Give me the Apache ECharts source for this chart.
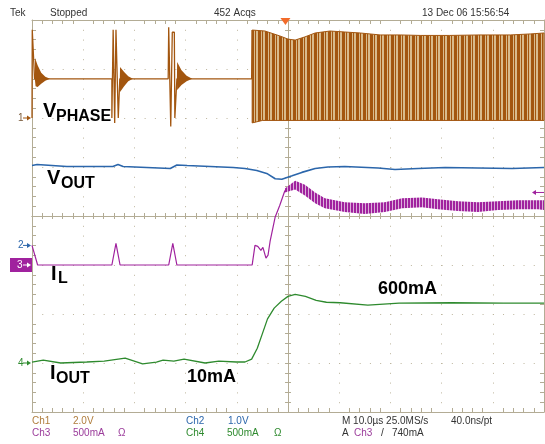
<!DOCTYPE html>
<html>
<head>
<meta charset="utf-8">
<script src="https://cdn.jsdelivr.net/npm/echarts@6.0.0/dist/echarts.min.js"></script>
<style>
html, body { margin: 0; padding: 0; background: #fff; }
#scope { width: 545px; height: 444px; }
</style>
</head>
<body>
<div id="scope"></div>
<script>
// time base: 10 us/div, trigger in the middle
const timeMin = -50, timeMax = 50;
const triggerTime = -0.5;
const triggerLevel = 0.74; // A on ch3

// channel scale (units per div) and ground marker (div from centre)
const ch1PerDiv = 2.0, ch1Ground = 2.0;
const ch2PerDiv = 1.0, ch2Ground = -0.6;
const ch3PerDiv = 0.5, ch3Ground = -1.0;
const ch4PerDiv = 0.5, ch4Ground = -3.0;

// ch1 VPHASE (V): idle trace + pulse bursts
const vphaseTrace = [
    [-50.0, 0.0], [-49.95, 3.6], [-49.6, 3.6], [-49.5, 1.6],
    [-34.4, 1.6], [-34.4, 0.0], [-34.25, 0.0], [-34.15, 3.6], [-33.95, 3.6], [-33.85, -0.2],
    [-33.7, -0.2], [-33.6, 3.6], [-33.25, 3.6], [-33.15, 0.0], [-32.95, 0.0], [-32.85, 1.6],
    [-23.4, 1.6], [-23.3, 3.7], [-23.0, 3.7], [-22.9, -0.35], [-22.7, -0.35], [-22.6, 3.5],
    [-22.2, 3.5], [-22.1, 0.0], [-21.8, 0.0], [-21.7, 1.6],
    [-7.1, 1.6], [-7.0, 3.59]
];
// ringing after each burst (outline)
const vphaseRinging = [
    [[-49.45, 1.6], [-49.4, 2.45], [-48.9, 2.15], [-48.2, 1.85], [-47.4, 1.68], [-46.5, 1.6],
     [-47.4, 1.52], [-48.2, 1.4], [-48.9, 1.27], [-49.3, 1.3]],
    [[-32.85, 1.6], [-32.8, 2.08], [-32.0, 1.88], [-31.2, 1.7], [-30.3, 1.6], [-31.2, 1.5],
     [-32.0, 1.3], [-32.8, 1.06]],
    [[-21.7, 1.6], [-21.65, 2.29], [-20.8, 1.95], [-19.8, 1.72], [-18.7, 1.6], [-19.8, 1.5],
     [-20.8, 1.35], [-21.65, 1.14]]
];
// continuous switching: envelope of the square wave
const vphaseSwitchHigh = [
    [-7.0, 3.59], [-4.5, 3.55], [-1.6, 3.35], [0, 3.22], [1.4, 3.18], [3.3, 3.31], [5.3, 3.47],
    [8.2, 3.55], [11.1, 3.51], [14.1, 3.47], [18.0, 3.39], [21.9, 3.39], [25.8, 3.37],
    [31.6, 3.37], [37.5, 3.39], [43.4, 3.39], [47.3, 3.43], [50, 3.47]
];
const vphaseSwitchLow = [[-7.0, -0.2], [-5.0, -0.1], [50, -0.1]];

// ch2 VOUT (V)
const voutTrace = [
    [-50, 1.63], [-49, 1.65], [-43.2, 1.61], [-34.2, 1.61], [-33.2, 1.65], [-32.2, 1.61],
    [-23.0, 1.57], [-21.7, 1.64], [-19.7, 1.63], [-10.7, 1.59], [-8.4, 1.57], [-6.1, 1.53],
    [-4.0, 1.46], [-2.5, 1.36], [-1.2, 1.35], [0.8, 1.42], [2.7, 1.49], [5.3, 1.57], [7.8, 1.60],
    [11.1, 1.61], [17.6, 1.58], [20.9, 1.55], [25.4, 1.57], [30.7, 1.59], [37.1, 1.58],
    [43.8, 1.57], [50, 1.59]
];

// ch3 IL (A)
const ilTrace = [
    [-50, 0.20], [-49.8, 0.20], [-48.9, 0.0],
    [-34.4, 0.0], [-33.6, 0.22], [-32.8, 0.0],
    [-23.3, 0.0], [-22.5, 0.22], [-21.7, 0.0],
    [-7.0, 0.0], [-6.45, 0.20], [-5.9, 0.19], [-5.3, 0.15], [-4.9, 0.18], [-4.3, 0.07],
    [-3.9, 0.10], [-3.5, 0.24], [-2.5, 0.49], [-1.6, 0.61], [-0.6, 0.76]
];
const ilRippleHigh = [
    [-0.6, 0.78], [1.4, 0.86], [3.3, 0.82], [5.3, 0.74], [7.2, 0.68], [11.1, 0.64], [15.0, 0.63],
    [18.9, 0.64], [22.3, 0.68], [26.2, 0.69], [29.3, 0.67], [33.2, 0.65], [37.1, 0.64],
    [41.0, 0.65], [44.9, 0.66], [48.8, 0.66], [50, 0.66]
];
const ilRippleLow = [
    [-0.6, 0.74], [1.4, 0.77], [3.3, 0.71], [5.3, 0.63], [7.2, 0.58], [11.1, 0.54], [15.0, 0.52],
    [18.9, 0.54], [22.3, 0.58], [26.2, 0.59], [29.3, 0.57], [33.2, 0.55], [37.1, 0.54],
    [41.0, 0.56], [44.9, 0.57], [48.8, 0.57], [50, 0.56]
];

// ch4 IOUT (A)
const ioutTrace = [
    [-50, 0.01], [-47.8, 0.03], [-44.4, 0.0], [-39.3, 0.01], [-35.9, 0.02], [-31.8, 0.05],
    [-28.4, -0.01], [-25.7, 0.01], [-24.4, 0.03], [-22.3, 0.02], [-20.3, 0.04], [-16.2, 0.0],
    [-13.5, 0.02], [-10.1, 0.01], [-8.4, 0.01], [-7.1, 0.04], [-6.0, 0.15], [-5.0, 0.30],
    [-4.0, 0.45], [-2.7, 0.56], [-1.3, 0.63], [0.0, 0.68], [1.4, 0.70], [3.4, 0.68], [5.5, 0.64],
    [7.5, 0.62], [10.2, 0.615], [15.6, 0.59], [21.7, 0.61], [31.9, 0.615], [42.1, 0.61], [50, 0.61]
];

const brown = '#a3560f';
const tan = '#d9bb8c';
const blue = '#2b66ab';
const purple = '#a0229e';
const lilac = '#dcaedb';
const green = '#2e8a2e';
const frameColor = '#b3ac95';
const dotColor = '#bdb59d';
const fontFamily = '"Liberation Sans", Arial, sans-serif';

const scopeDom = document.getElementById('scope');
const myChart = echarts.init(scopeDom);

function toDivs(points, perDiv, ground) {
    return points.map(p => [p[0], ground + p[1] / perDiv]);
}

function stripes(colors) {
    const c = document.createElement('canvas');
    c.width = colors.length;
    c.height = 4;
    const g = c.getContext('2d');
    colors.forEach((col, i) => {
        g.fillStyle = col;
        g.fillRect(i, 0, 1, 4);
    });
    return c;
}

function polygonSeries(name, outline, fill, stroke) {
    return {
        name: name,
        type: 'custom',
        data: [[0, 0]],
        silent: true,
        renderItem: function (params, api) {
            return {
                type: 'polygon',
                shape: {points: outline.map(p => api.coord(p))},
                style: {fill: fill, stroke: stroke || null, lineWidth: 1}
            };
        }
    };
}

function bandSeries(name, high, low, fill, stroke) {
    return polygonSeries(name, high.concat(low.slice().reverse()), fill, stroke);
}

function traceSeries(name, data, color, width) {
    return {
        name: name,
        type: 'line',
        data: data,
        showSymbol: false,
        silent: true,
        lineStyle: {color: color, width: width}
    };
}

const switchFill = {image: stripes([brown, brown, tan, brown, tan, tan, brown]), repeat: 'repeat'};
const rippleFill = {image: stripes([purple, purple, lilac]), repeat: 'repeat'};

const series = [
    traceSeries('VPHASE', toDivs(vphaseTrace, ch1PerDiv, ch1Ground), brown, 1.3),
    bandSeries('VPHASE switching', toDivs(vphaseSwitchHigh, ch1PerDiv, ch1Ground),
        toDivs(vphaseSwitchLow, ch1PerDiv, ch1Ground), switchFill, brown),
    traceSeries('VOUT', toDivs(voutTrace, ch2PerDiv, ch2Ground), blue, 1.6),
    traceSeries('IL', toDivs(ilTrace, ch3PerDiv, ch3Ground), purple, 1.2),
    bandSeries('IL ripple', toDivs(ilRippleHigh, ch3PerDiv, ch3Ground),
        toDivs(ilRippleLow, ch3PerDiv, ch3Ground), rippleFill),
    traceSeries('IOUT', toDivs(ioutTrace, ch4PerDiv, ch4Ground), green, 1.3)
];
vphaseRinging.forEach((blob, i) => {
    series.push(polygonSeries('ringing ' + i, toDivs(blob, ch1PerDiv, ch1Ground), brown));
});

const minor = {show: true, splitNumber: 5, length: 4, lineStyle: {color: frameColor}};
const xBase = {type: 'value', min: timeMin, max: timeMax, interval: 10, axisLabel: {show: false}};
const yBase = {type: 'value', min: -4, max: 4, interval: 1, axisLabel: {show: false}};

function frameLine(onZero) {
    return {show: true, onZero: onZero, onZeroAxisIndex: 0, lineStyle: {color: frameColor, width: 1}};
}

const option = {
    animation: false,
    backgroundColor: '#ffffff',
    grid: {left: 32, top: 20, width: 512, height: 392, containLabel: false},
    xAxis: [
        Object.assign({}, xBase, {position: 'bottom', axisLine: frameLine(false),
            axisTick: {show: false, inside: true}, minorTick: minor,
            splitLine: {show: true, lineStyle: {color: dotColor, type: [1, 8.8]}}}),
        Object.assign({}, xBase, {position: 'top', axisLine: frameLine(false),
            axisTick: {show: false, inside: true}, minorTick: minor, splitLine: {show: false}}),
        Object.assign({}, xBase, {position: 'bottom', axisLine: frameLine(true),
            axisTick: {show: true, inside: false, length: 3, lineStyle: {color: frameColor}},
            minorTick: Object.assign({}, minor, {length: 3}), splitLine: {show: false}}),
        Object.assign({}, xBase, {position: 'bottom', axisLine: frameLine(true),
            axisTick: {show: true, inside: true, length: 3, lineStyle: {color: frameColor}},
            minorTick: Object.assign({}, minor, {length: 3}), splitLine: {show: false}})
    ],
    yAxis: [
        Object.assign({}, yBase, {position: 'left', axisLine: frameLine(false),
            axisTick: {show: false, inside: true}, minorTick: minor,
            splitLine: {show: true, lineStyle: {color: dotColor, type: [1, 9.24]}}}),
        Object.assign({}, yBase, {position: 'right', axisLine: frameLine(false),
            axisTick: {show: false, inside: true}, minorTick: minor, splitLine: {show: false}}),
        Object.assign({}, yBase, {position: 'left', axisLine: frameLine(true),
            axisTick: {show: true, inside: false, length: 3, lineStyle: {color: frameColor}},
            minorTick: Object.assign({}, minor, {length: 3}), splitLine: {show: false}}),
        Object.assign({}, yBase, {position: 'left', axisLine: frameLine(true),
            axisTick: {show: true, inside: true, length: 3, lineStyle: {color: frameColor}},
            minorTick: Object.assign({}, minor, {length: 3}), splitLine: {show: false}})
    ],
    series: series
};
myChart.setOption(option);

// screen decorations: header, readouts, trace names, channel markers
function pos(t, d) {
    return myChart.convertToPixel({xAxisIndex: 0, yAxisIndex: 0}, [t, d]);
}

function text(str, x, y, size, color, weight) {
    return {
        type: 'text', x: x, y: y, z: 100, silent: true,
        style: {text: str, fill: color, align: 'left', verticalAlign: 'middle',
            font: (weight || 'normal') + ' ' + size + 'px ' + fontFamily}
    };
}

function arrow(x1, x2, y, color) {
    const dir = x2 > x1 ? 1 : -1;
    return [
        {type: 'line', z: 100, silent: true, shape: {x1: x1, y1: y, x2: x2 - dir * 3, y2: y},
            style: {stroke: color, lineWidth: 1}},
        {type: 'polygon', z: 100, silent: true,
            shape: {points: [[x2 - dir * 4, y - 2.5], [x2, y], [x2 - dir * 4, y + 2.5]]},
            style: {fill: color}}
    ];
}

const gridLeft = pos(timeMin, 0)[0];
const gridRight = pos(timeMax, 0)[0];
const gridTop = pos(0, 4)[1];
const y1 = pos(0, ch1Ground)[1];
const y2 = pos(0, ch2Ground)[1];
const y3 = pos(0, ch3Ground)[1];
const y4 = pos(0, ch4Ground)[1];
const yTrig = pos(0, ch3Ground + triggerLevel / ch3PerDiv)[1];
const xTrig = pos(triggerTime, 0)[0];

const graphic = [
    text('Tek', 10, 13, 10, '#333'),
    text('Stopped', 50, 13, 10, '#333'),
    text('452 Acqs', 214, 13, 10, '#333'),
    text('13 Dec 06 15:56:54', 422, 13, 10, '#333'),
    {type: 'polygon', z: 100, silent: true,
        shape: {points: [[xTrig - 5, gridTop - 2], [xTrig + 5, gridTop - 2], [xTrig, gridTop + 5]]},
        style: {fill: '#f26b2a'}},

    text('1', gridLeft - 14, y1, 10, '#7a5a3a'),
    text('2', gridLeft - 14, y2, 10, blue),
    {type: 'rect', z: 99, silent: true, shape: {x: 10, y: y3 - 7, width: gridLeft - 10, height: 14},
        style: {fill: purple}},
    text('3', gridLeft - 15, y3, 10, '#ffffff'),
    text('4', gridLeft - 14, y4, 10, green),

    text('V', 43, 111, 20, '#000', 'bold'),
    text('PHASE', 56, 117, 16, '#000', 'bold'),
    text('V', 47, 178, 20, '#000', 'bold'),
    text('OUT', 61, 184, 16, '#000', 'bold'),
    text('I', 51, 274, 20, '#000', 'bold'),
    text('L', 58, 279, 16, '#000', 'bold'),
    text('I', 50, 373, 20, '#000', 'bold'),
    text('OUT', 56, 379, 16, '#000', 'bold'),
    text('10mA', 187, 377, 18, '#000', 'bold'),
    text('600mA', 378, 289, 18, '#000', 'bold'),

    text('Ch1', 32, 421, 10, '#b07d3c'),
    text('2.0V', 73, 421, 10, '#b07d3c'),
    text('Ch2', 186, 421, 10, blue),
    text('1.0V', 228, 421, 10, blue),
    text('M 10.0\u00b5s 25.0MS/s', 342, 421, 10, '#333'),
    text('40.0ns/pt', 451, 421, 10, '#333'),
    text('Ch3', 32, 433, 10, '#9b3c9b'),
    text('500mA', 73, 433, 10, '#9b3c9b'),
    text('\u03a9', 118, 433, 10, '#9b3c9b'),
    text('Ch4', 186, 433, 10, green),
    text('500mA', 227, 433, 10, green),
    text('\u03a9', 274, 433, 10, green),
    text('A', 342, 433, 10, '#333'),
    text('Ch3', 354, 433, 10, '#9b3c9b'),
    text('/', 381, 433, 10, '#333'),
    text('740mA', 392, 433, 10, '#333')
].concat(
    arrow(gridLeft - 9, gridLeft - 1, y1, brown),
    arrow(gridLeft - 9, gridLeft - 1, y2, blue),
    arrow(gridLeft - 9, gridLeft - 1, y3, '#ffffff'),
    arrow(gridLeft - 9, gridLeft - 1, y4, green),
    arrow(gridRight, gridRight - 12, yTrig, purple)
);

myChart.setOption({graphic: graphic});

window.addEventListener('resize', function () {
    myChart.resize();
});
</script>
</body>
</html>
